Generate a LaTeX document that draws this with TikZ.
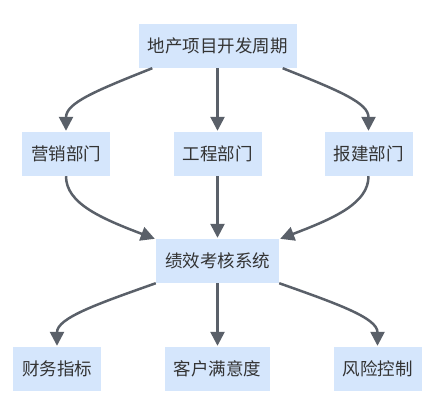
\documentclass[tikz,border=0pt]{standalone}
\usepackage{fontspec}
\newfontfamily\cjk{Noto Sans CJK SC}
\usetikzlibrary{arrows.meta}
\definecolor{boxfill}{HTML}{D5E6FC}
\definecolor{txt}{HTML}{333333}
\definecolor{edge}{HTML}{5A6069}
\begin{document}
\begin{tikzpicture}[x=1pt,y=-1pt,
  box/.style={fill=boxfill,draw=none,minimum height=44pt,inner xsep=9pt,
    font=\cjk\fontsize{17.5}{20}\selectfont,text=txt},
  conn/.style={draw=edge,line width=2.5pt,-{Triangle[length=14pt,width=14pt]}}]
\useasboundingbox (0,0) rectangle (436,405);
\node[box] (top) at (217.5,46) {地产项目开发周期};
\node[box] (mk) at (66,154) {营销部门};
\node[box] (gc) at (217.5,154) {工程部门};
\node[box] (bj) at (368.5,154) {报建部门};
\node[box] (kh) at (217.5,261) {绩效考核系统};
\node[box] (cw) at (57,369) {财务指标};
\node[box] (kf) at (217.5,369) {客户满意度};
\node[box] (fx) at (377.5,369) {风险控制};
% top to row 2
\draw[conn] ([xshift=14pt]top.south west) .. controls (95,91) and (66,103) .. ([yshift=1pt]mk.north);
\draw[conn] (top.south) -- ([yshift=1pt]gc.north);
\draw[conn] ([xshift=-14pt]top.south east) .. controls (340,91) and (368.5,103) .. ([yshift=1pt]bj.north);
% row 2 to kh
\draw[conn] (mk.south) .. controls (66,203) and (100,218) .. ([xshift=-1pt]kh.north west);
\draw[conn] (gc.south) -- ([yshift=1pt]kh.north);
\draw[conn] (bj.south) .. controls (368.5,203) and (335,218) .. ([xshift=1pt]kh.north east);
% kh to bottom
\draw[conn] (kh.south west) .. controls (97,304) and (57,318) .. ([yshift=1pt]cw.north);
\draw[conn] (kh.south) -- ([yshift=1pt]kf.north);
\draw[conn] (kh.south east) .. controls (338,304) and (377.5,318) .. ([yshift=1pt]fx.north);
\end{tikzpicture}
\end{document}
